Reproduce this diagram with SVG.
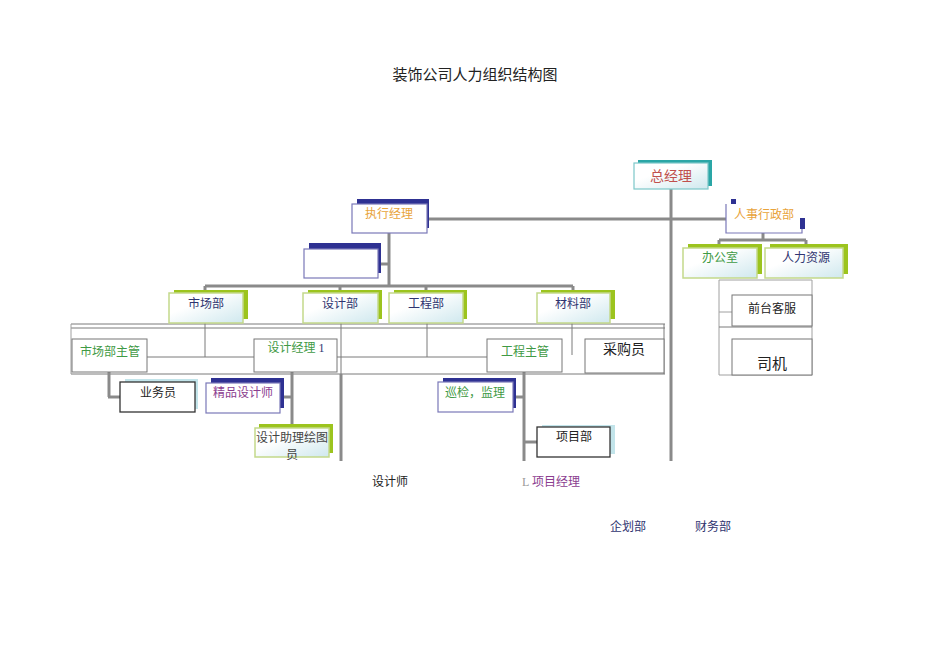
<svg xmlns="http://www.w3.org/2000/svg" width="950" height="672" viewBox="0 0 950 672">
<defs>
<linearGradient id="g" x1="0" y1="0" x2="1" y2="1">
<stop offset="0.35" stop-color="#ffffff"/>
<stop offset="1" stop-color="#cfe8ee"/>
</linearGradient>
</defs>
<style>
text{font-family:"Liberation Serif","Noto Sans CJK SC",serif;font-size:12px;text-anchor:middle}
.thick{stroke:#8a8a8a;stroke-width:3;fill:none}
.thin{stroke:#7a7a7a;stroke-width:1;fill:none}
.tl{stroke:#a0a0a0;stroke-width:1;fill:none}
.bg-green{fill:#9cc41e}
.bg-navy{fill:#2e3192}
.bg-teal{fill:#2aa6a6}
.bg-lb{fill:#c2e4ea}
.fr-green{fill:url(#g);stroke:#c3d98a;stroke-width:1.5}
.fr-navy{fill:#fff;stroke:#7a78b8;stroke-width:1.2}
.fr-teal{fill:url(#g);stroke:#7cc7c9;stroke-width:1.2}
.fr-plain{fill:#fff;stroke:#333;stroke-width:1.3}
.fr-thin{fill:#fff;stroke:#777;stroke-width:1}
.navy{fill:#2f3470}
.green{fill:#3f9a45}
.orange{fill:#e8a33a}
.purple{fill:#8b3d8f}
.red{fill:#c0504d}
.black{fill:#222}
</style>

<text x="475" y="80" style="font-size:15px" class="black">装饰公司人力组织结构图</text>

<g id="connectors">
<line class="thick" x1="671" y1="189" x2="671" y2="461"/>
<line class="thick" x1="427" y1="219" x2="726" y2="219"/>
<line class="thick" x1="389" y1="233" x2="389" y2="287"/>
<line class="thick" x1="378" y1="264" x2="389" y2="264"/>
<line class="thick" x1="205" y1="286" x2="573" y2="286"/>
<line class="thick" x1="205" y1="286" x2="205" y2="293"/>
<line class="thick" x1="340" y1="286" x2="340" y2="293"/>
<line class="thick" x1="426" y1="286" x2="426" y2="293"/>
<line class="thick" x1="573" y1="286" x2="573" y2="293"/>
<line class="thick" x1="763" y1="233" x2="763" y2="240"/>
<line class="thick" x1="719" y1="240" x2="806" y2="240"/>
<line class="thick" x1="719" y1="240" x2="719" y2="248"/>
<line class="thick" x1="806" y1="240" x2="806" y2="248"/>
<!-- table -->
<line class="thin" x1="71" y1="324" x2="665" y2="324"/>
<line class="thin" x1="71" y1="328" x2="665" y2="328"/>
<line class="thin" x1="71" y1="374" x2="665" y2="374"/>
<line class="tl" x1="71" y1="324" x2="71" y2="374"/>
<line class="thin" x1="664" y1="324" x2="664" y2="374"/>
<line class="thin" x1="205" y1="323" x2="205" y2="357"/>
<line class="thin" x1="341" y1="323" x2="341" y2="374"/>
<line class="thin" x1="427" y1="323" x2="427" y2="357"/>
<line class="thin" x1="572" y1="323" x2="572" y2="355"/>
<line class="thin" x1="147" y1="357" x2="254" y2="357"/>
<line class="thin" x1="337" y1="357" x2="487" y2="357"/>
<!-- lower -->
<line class="thick" x1="341" y1="374" x2="341" y2="461"/>
<line class="thick" x1="524" y1="372" x2="524" y2="461"/>
<line class="thick" x1="109" y1="372" x2="109" y2="397"/>
<line class="thick" x1="108" y1="397" x2="120" y2="397"/>
<line class="thick" x1="292" y1="372" x2="292" y2="428"/>
<line class="thick" x1="280" y1="397" x2="292" y2="397"/>
<line class="thick" x1="513" y1="397" x2="524" y2="397"/>
<line class="thick" x1="524" y1="442" x2="537" y2="442"/>
<!-- right table -->
<line class="tl" x1="719" y1="280" x2="812" y2="280"/>
<line class="tl" x1="719" y1="280" x2="719" y2="375"/>
<line class="tl" x1="812" y1="280" x2="812" y2="375"/>
<line class="tl" x1="719" y1="375" x2="812" y2="375"/>
<line class="thin" x1="719" y1="327" x2="812" y2="327"/>
<line class="tl" x1="719" y1="312" x2="732" y2="312"/>
</g>

<g id="n-zongjingli">
<rect class="bg-teal" x="638" y="160" width="74" height="26"/>
<rect class="fr-teal" x="634" y="163" width="74" height="26"/>
<text x="671" y="181" style="font-size:14px" class="red">总经理</text>
</g>

<g id="n-zhixing">
<rect class="bg-navy" x="357" y="199" width="72" height="29"/>
<rect class="fr-navy" x="352" y="204" width="75" height="29"/>
<text x="389" y="218" class="orange">执行经理</text>
</g>

<g id="n-empty">
<rect class="bg-navy" x="309" y="243" width="72" height="30"/>
<rect class="fr-navy" x="304" y="249" width="74" height="29"/>
</g>

<g id="n-renshi">
<rect fill="#fff" x="726" y="204" width="76" height="29"/>
<rect class="bg-navy" x="731" y="199" width="5" height="5"/>
<rect class="bg-navy" x="800" y="218" width="5" height="11"/>
<polyline points="726,204 726,233 802,233 802,229" fill="none" stroke="#7a78b8" stroke-width="1.2"/>
<text x="764" y="219" class="orange">人事行政部</text>
</g>

<g id="n-bangongshi">
<rect class="bg-green" x="688" y="244" width="74" height="30"/>
<rect class="fr-green" x="683" y="248" width="74" height="30"/>
<text x="720" y="262" class="green">办公室</text>
</g>

<g id="n-renli">
<rect class="bg-green" x="770" y="244" width="78" height="30"/>
<rect class="fr-green" x="765" y="248" width="78" height="30"/>
<text x="806" y="262" class="navy">人力资源</text>
</g>

<g id="n-qiantai">
<rect class="fr-thin" x="732" y="295" width="80" height="31"/>
<text x="772" y="313" class="black">前台客服</text>
</g>

<g id="n-siji">
<rect class="fr-thin" x="732" y="339" width="80" height="36"/>
<text x="772" y="369" style="font-size:15px" class="black">司机</text>
</g>

<g id="n-shichang">
<rect class="bg-green" x="174" y="290" width="74" height="29"/>
<rect class="fr-green" x="169" y="293" width="74" height="30"/>
<text x="206" y="308" class="navy">市场部</text>
</g>

<g id="n-sheji">
<rect class="bg-green" x="308" y="290" width="74" height="29"/>
<rect class="fr-green" x="303" y="293" width="75" height="30"/>
<text x="340" y="308" class="navy">设计部</text>
</g>

<g id="n-gongcheng">
<rect class="bg-green" x="394" y="290" width="73" height="29"/>
<rect class="fr-green" x="389" y="293" width="74" height="30"/>
<text x="426" y="308" class="navy">工程部</text>
</g>

<g id="n-cailiao">
<rect class="bg-green" x="541" y="290" width="74" height="29"/>
<rect class="fr-green" x="537" y="293" width="73" height="30"/>
<text x="573" y="308" class="navy">材料部</text>
</g>

<g id="n-shichangzhuguan">
<rect class="fr-thin" x="72" y="339" width="75" height="33"/>
<text x="110" y="356" class="green">市场部主管</text>
</g>

<g id="n-shejijingli">
<rect class="fr-thin" x="254" y="339" width="83" height="33"/>
<text x="296" y="352" class="green">设计经理 <tspan class="navy">1</tspan></text>
</g>

<g id="n-gongchengzhuguan">
<rect class="fr-thin" x="487" y="339" width="75" height="33"/>
<text x="525" y="356" class="green">工程主管</text>
</g>

<g id="n-caigou">
<rect class="fr-thin" x="585" y="339" width="79" height="34"/>
<text x="624" y="354" style="font-size:14px" class="black">采购员</text>
</g>

<g id="n-yewuyuan">
<rect class="bg-lb" x="125" y="379" width="73" height="30"/>
<rect class="fr-plain" x="120" y="382" width="75" height="30"/>
<text x="158" y="397" class="black">业务员</text>
</g>

<g id="n-jingpin">
<rect class="bg-navy" x="211" y="378" width="73" height="30"/>
<rect class="fr-navy" x="206" y="383" width="74" height="30"/>
<text x="243" y="397" class="purple">精品设计师</text>
</g>

<g id="n-zhuli">
<rect class="bg-green" x="259" y="424" width="74" height="29"/>
<rect class="fr-green" x="255" y="428" width="74" height="29"/>
<text x="292" y="442" style="fill:#444">设计助理绘图</text>
<text x="292" y="459" style="fill:#444">员</text>
</g>

<g id="n-xunjian">
<rect class="bg-navy" x="443" y="378" width="73" height="30"/>
<rect class="fr-navy" x="438" y="382" width="75" height="30"/>
<text x="475" y="397" class="green">巡检，监理</text>
</g>

<g id="n-xiangmubu">
<rect class="bg-lb" x="542" y="425" width="73" height="29"/>
<rect class="fr-plain" x="537" y="427" width="73" height="30"/>
<text x="574" y="441" class="black">项目部</text>
</g>

<g id="n-labels">
<text x="390" y="486" class="black">设计师</text>
<text x="551" y="486"><tspan style="fill:#999">L </tspan><tspan class="purple">项目经理</tspan></text>
<text x="628" y="531" class="navy">企划部</text>
<text x="713" y="531" class="navy">财务部</text>
</g>
</svg>
